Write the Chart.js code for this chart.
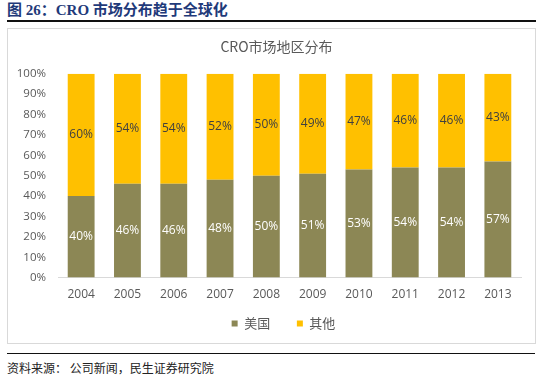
<!DOCTYPE html>
<html><head><meta charset="utf-8">
<script src="https://cdn.jsdelivr.net/npm/chart.js@4/dist/chart.umd.min.js"></script>
<style>
html,body{margin:0;padding:0;background:#fff;width:538px;height:381px;overflow:hidden;position:relative;font-family:"Noto Sans CJK SC",sans-serif}
#hdr{position:absolute;left:7px;top:-2px;font:bold 15px "Liberation Serif","Noto Sans CJK SC",serif;color:#1f3a7a;white-space:nowrap}
#hdr span{font-family:"Noto Sans CJK SC";font-weight:bold}
#l1{position:absolute;left:7px;top:20px;width:529px;height:2px;background:#111}
#box{position:absolute;left:7px;top:28px;width:529px;height:316px;border:1px solid #d9d9d9;box-sizing:border-box}
#l2{position:absolute;left:7px;top:353px;width:528px;height:1px;background:#111}
#src{position:absolute;left:7px;top:359px;font-size:12px;color:#222;white-space:nowrap}
canvas{position:absolute;left:0;top:0}
</style></head><body>
<div id="hdr">图 26：CRO <span>市场分布趋于全球化</span></div>
<div id="l1"></div>
<div id="box"><canvas id="c" width="527" height="314"></canvas></div>
<div id="l2"></div>
<div id="src">资料来源： 公司新闻，民生证券研究院</div>
<script>
const years = ['2004','2005','2006','2007','2008','2009','2010','2011','2012','2013'];
const usShare = [40,46,46,48,50,51,53,54,54,57];
const otherShare = [60,54,54,52,50,49,47,46,46,43];
const seriesNames = ['美国','其他'];
const yTicks = [0,10,20,30,40,50,60,70,80,90,100];

const labelPlugin = {
  id:'lbl',
  beforeDraw(chart){
    const lg = chart.legend;
    if (lg && !lg._shifted){ lg.left += 12; lg.right += 12; lg._shifted = true; }
    const tb = chart.titleBlock;
    if (tb && !tb._shifted){ tb.left += 5; tb.right += 5; tb._shifted = true; }
  },
  afterDatasetsDraw(chart){
    const ctx = chart.ctx;
    ctx.save();
    ctx.font = '12px "Open Sans", sans-serif';
    ctx.textAlign='center'; ctx.textBaseline='middle';
    chart.data.datasets.forEach((ds,i)=>{
      const meta = chart.getDatasetMeta(i);
      ctx.fillStyle = i===0 ? '#ffffff' : '#404040';
      meta.data.forEach((bar,j)=>{
        const y = (bar.y + bar.base)/2;
        ctx.fillText(ds.data[j]+'%', bar.x, y);
      });
    });
    ctx.restore();
  }
};

new Chart(document.getElementById('c'),{
  type:'bar',
  data:{labels:years,datasets:[
    {label:seriesNames[0],data:usShare,backgroundColor:'#8c8755',categoryPercentage:1,barPercentage:0.58},
    {label:seriesNames[1],data:otherShare,backgroundColor:'#ffc000',categoryPercentage:1,barPercentage:0.58}
  ]},
  options:{
    responsive:false,animation:false,
    layout:{padding:{left:0,right:0,top:6,bottom:3}},
    plugins:{
      title:{display:true,text:'CRO市场地区分布',color:'#595959',font:{size:14,family:'"Noto Sans CJK SC"',weight:'normal'},padding:{top:3,bottom:19}},
      legend:{position:'bottom',labels:{boxWidth:6,boxHeight:6,color:'#595959',font:{size:13,family:'"Noto Sans CJK SC"'},padding:5,
        generateLabels(chart){
          const items = Chart.defaults.plugins.legend.labels.generateLabels(chart);
          items[0].text = items[0].text + '\u3000   ';
          return items;
        }}},
      tooltip:{enabled:false}
    },
    scales:{
      x:{stacked:true,grid:{display:false,drawTicks:false},border:{color:'#d9d9d9'},ticks:{color:'#595959',font:{size:12,family:'"Open Sans"'},padding:10}},
      y:{stacked:true,min:0,max:100,afterBuildTicks(s){s.ticks=yTicks.map(v=>({value:v}));},
         afterFit(s){s.width=50;},
         grid:{display:false,drawTicks:false},border:{display:false},
         ticks:{color:'#595959',font:{size:11.5,family:'"Open Sans"'},padding:12,callback:v=>v+'%'}},
      yr:{position:'right',display:true,min:0,max:100,afterFit(s){s.width=14;},
         grid:{display:false,drawTicks:false},border:{display:false},ticks:{display:false}}
    }
  },
  plugins:[labelPlugin]
});
</script>
</body></html>
